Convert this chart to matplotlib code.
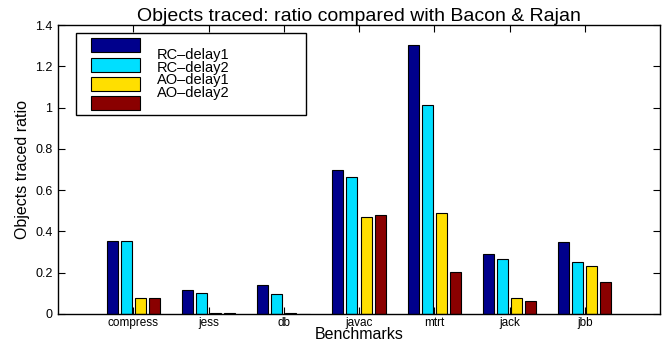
import numpy as np
import matplotlib.pyplot as plt
from matplotlib.patches import Rectangle

benchmarks = ['compress', 'jess', 'db', 'javac', 'mtrt', 'jack', 'jbb']
series = ['RC\u2013delay1', 'RC\u2013delay2', 'AO\u2013delay1', 'AO\u2013delay2']
rc_delay1 = [0.356, 0.117, 0.141, 0.70, 1.305, 0.29, 0.349]
rc_delay2 = [0.356, 0.104, 0.096, 0.662, 1.011, 0.267, 0.25]
ao_delay1 = [0.077, 0.004, 0.003, 0.471, 0.49, 0.077, 0.232]
ao_delay2 = [0.077, 0.003, 0.001, 0.481, 0.203, 0.064, 0.157]
colors = ['#00008c', '#00dfff', '#ffdf00', '#8a0000']

plt.rcParams['font.family'] = ['Liberation Sans', 'DejaVu Sans']

fig = plt.figure(figsize=(6.68, 3.46), dpi=100)
ax = fig.add_axes([58 / 668, 32 / 346, 602 / 668, 289 / 346])

x = np.arange(1, len(benchmarks) + 1)
step = 0.187
width = 0.147
all_vals = [rc_delay1, rc_delay2, ao_delay1, ao_delay2]
for i, vals in enumerate(all_vals):
    ax.bar(x + (i - 1.5) * step, vals, width, color=colors[i], edgecolor='black',
           linewidth=0.8)

ax.set_xlim(0, 8)
ax.set_ylim(0, 1.4)
ax.set_xticks(x)
ax.set_xticklabels(benchmarks, fontsize=8.5)
ax.set_yticks(np.arange(0, 1.41, 0.2))
ax.set_yticklabels(['0', '0.2', '0.4', '0.6', '0.8', '1', '1.2', '1.4'], fontsize=9)
ax.tick_params(direction='in', top=True, right=True, length=5, width=0.8, pad=4)
ax.tick_params(axis='x', pad=2)
for s in ax.spines.values():
    s.set_linewidth(1.0)

ax.set_title('Objects traced: ratio compared with Bacon & Rajan', fontsize=14, pad=3)
ax.set_xlabel('Benchmarks', fontsize=11.5, labelpad=-1)
ax.set_ylabel('Objects traced ratio', fontsize=11.5, labelpad=4)

# legend box: colour swatches on the left, labels as one tighter-packed block
ax.add_patch(Rectangle((0.030, 0.687), 0.382, 0.2855, transform=ax.transAxes,
                       facecolor='white', edgecolor='black', linewidth=1.0, zorder=5))
swatch_y = [0.931, 0.863, 0.796, 0.729]
for i in range(len(series)):
    ax.add_patch(Rectangle((0.0548, swatch_y[i] - 0.024), 0.081, 0.048,
                           transform=ax.transAxes, facecolor=colors[i],
                           edgecolor='black', linewidth=0.8, zorder=6))
ax.text(0.164, 0.83, '\n'.join(series), transform=ax.transAxes, fontsize=10.5,
        linespacing=0.86, va='center', ha='left', zorder=6)

fig.savefig('out.png', dpi=100)
